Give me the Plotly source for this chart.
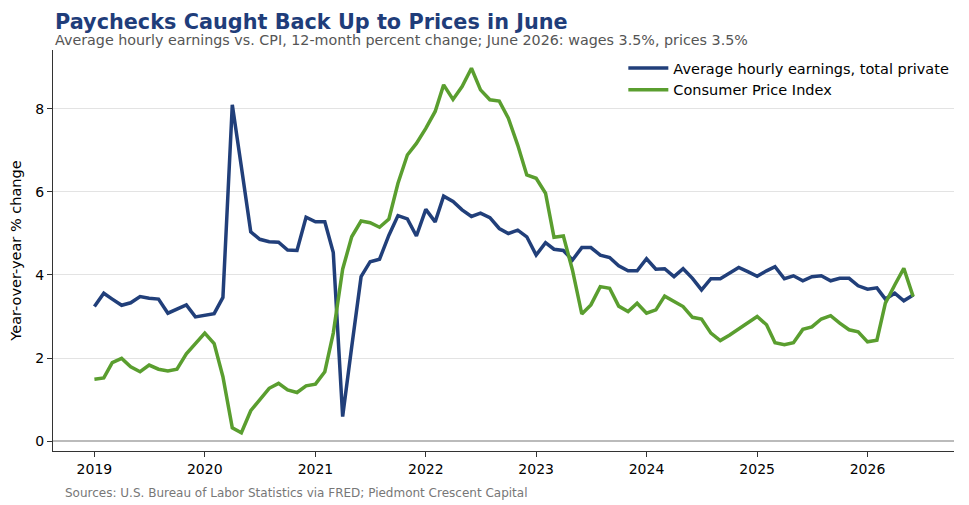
import plotly.graph_objects as go
import pandas as pd

months = pd.date_range("2019-01-01", "2026-06-01", freq="MS")

wages = [3.24, 3.56, 3.42, 3.27, 3.33, 3.48, 3.44, 3.42, 3.08, 3.19, 3.28, 2.99,
         3.04, 3.07, 3.46, 8.10, 6.61, 5.04, 4.86, 4.80, 4.79, 4.60, 4.59, 5.39,
         5.28, 5.28, 4.54, 0.59, 2.27, 3.96, 4.32, 4.38, 4.96, 5.43, 5.35, 4.94,
         5.58, 5.28, 5.90, 5.77, 5.57, 5.41, 5.49, 5.38, 5.12, 5.00, 5.08, 4.92,
         4.48, 4.78, 4.62, 4.59, 4.36, 4.66, 4.66, 4.48, 4.42, 4.22, 4.10, 4.10,
         4.39, 4.14, 4.15, 3.96, 4.15, 3.92, 3.64, 3.91, 3.91, 4.04, 4.18, 4.08,
         3.97, 4.10, 4.20, 3.91, 3.98, 3.86, 3.96, 3.98, 3.86, 3.92, 3.92, 3.74,
         3.66, 3.69, 3.42, 3.56, 3.38, 3.52]

cpi = [1.49, 1.52, 1.89, 1.99, 1.79, 1.67, 1.83, 1.73, 1.69, 1.73, 2.10, 2.34,
       2.60, 2.35, 1.55, 0.32, 0.20, 0.73, 1.00, 1.27, 1.39, 1.23, 1.17, 1.33,
       1.37, 1.67, 2.60, 4.14, 4.92, 5.30, 5.26, 5.15, 5.35, 6.21, 6.89, 7.17,
       7.53, 7.94, 8.58, 8.23, 8.54, 8.98, 8.46, 8.22, 8.19, 7.78, 7.13, 6.41,
       6.33, 5.97, 4.91, 4.94, 4.12, 3.06, 3.28, 3.72, 3.68, 3.25, 3.12, 3.32,
       3.08, 3.16, 3.49, 3.37, 3.24, 2.98, 2.94, 2.60, 2.42, 2.55, 2.71, 2.86,
       3.00, 2.80, 2.37, 2.32, 2.37, 2.69, 2.75, 2.94, 3.02, 2.84, 2.68, 2.63,
       2.39, 2.43, 3.32, 3.76, 4.16, 3.48]

year_ticks = [f"{y}-01-01" for y in range(2019, 2027)]
year_labels = [str(y) for y in range(2019, 2027)]
y_ticks = [0, 2, 4, 6, 8]

BLUE = "#213f7a"
GREEN = "#5a9e2f"
FONT = "DejaVu Sans"

fig = go.Figure()
fig.add_trace(go.Scatter(x=months, y=wages, mode="lines",
                         name="Average hourly earnings, total private",
                         line=dict(color=BLUE, width=3.5)))
fig.add_trace(go.Scatter(x=months, y=cpi, mode="lines",
                         name="Consumer Price Index",
                         line=dict(color=GREEN, width=3.5)))

fig.update_layout(
    width=969, height=505,
    margin=dict(l=53, r=15, t=50, b=54),
    paper_bgcolor="white", plot_bgcolor="white",
    font=dict(family=FONT, size=14, color="#000"),
    showlegend=True,
    legend=dict(x=0.633, y=0.995, xanchor="left", yanchor="top",
                bgcolor="rgba(0,0,0,0)", font=dict(size=14.5),
                tracegroupgap=0, itemwidth=40),
    xaxis=dict(range=["2018-08-17", "2026-10-14"], tickvals=year_ticks,
               ticktext=year_labels, showgrid=False, showline=True,
               linecolor="#333", linewidth=1.2, ticks="outside", ticklen=5,
               tickcolor="#333", zeroline=False, tickfont=dict(size=14)),
    yaxis=dict(range=[-0.24, 9.42], tickvals=y_ticks, showgrid=True,
               gridcolor="#e3e3e3", gridwidth=1, showline=True,
               linecolor="#333", linewidth=1.2, ticks="outside", ticklen=5,
               tickcolor="#333", zeroline=True, zerolinecolor="#bbbbbb",
               zerolinewidth=1.5, tickfont=dict(size=14),
               title=dict(text="Year-over-year % change", font=dict(size=14.5),
                          standoff=10)),
)

fig.add_annotation(text="<b>Paychecks Caught Back Up to Prices in June</b>",
                   xref="paper", yref="paper", x=0, y=1.07,
                   xanchor="left", yanchor="middle", showarrow=False,
                   font=dict(size=20.8, color="#1f3d7a", family=FONT))
fig.add_annotation(text="Average hourly earnings vs. CPI, 12-month percent change; June 2026: wages 3.5%, prices 3.5%",
                   xref="paper", yref="paper", x=0, y=1.024,
                   xanchor="left", yanchor="middle", showarrow=False,
                   font=dict(size=14.3, color="#555555", family=FONT))
fig.add_annotation(text="Sources: U.S. Bureau of Labor Statistics via FRED; Piedmont Crescent Capital",
                   xref="paper", yref="paper", x=0.011, y=-0.105,
                   xanchor="left", yanchor="middle", showarrow=False,
                   font=dict(size=12, color="#777777", family=FONT))

fig.write_html("out.html")
